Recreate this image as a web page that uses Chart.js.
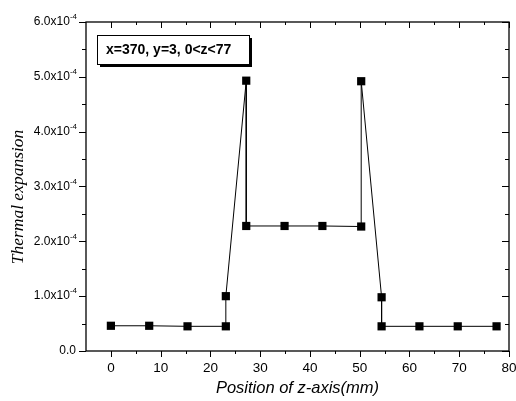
<!DOCTYPE html>
<html>
<head>
<meta charset="utf-8">
<script src="https://cdn.jsdelivr.net/npm/chart.js@4.4.0/dist/chart.umd.min.js"></script>
<style>
  html, body { margin: 0; padding: 0; background: #fff; }
</style>
</head>
<body>
<canvas id="grafico" width="516" height="401"></canvas>
<script>
// z position (mm) and thermal expansion (x1e-4)
const zPos = [0, 7.7, 15.4, 23.1, 23.1, 27.2, 27.2, 34.9, 42.5, 50.3, 50.3, 54.4, 54.4, 62.0, 69.7, 77.5];
const expansion = [0.46, 0.46, 0.45, 0.45, 1.0, 4.93, 2.28, 2.28, 2.28, 2.27, 4.92, 0.98, 0.45, 0.45, 0.45, 0.45];
const xTicks = [0, 10, 20, 30, 40, 50, 60, 70, 80];
const yTicks = [0, 1, 2, 3, 4, 5, 6];
const boxText = 'x=370, y=3, 0<z<77';
const xTitle = 'Position of z-axis(mm)';
const yTitle = 'Thermal expansion';

const ctx = document.getElementById('grafico');

let points = [];
for (var i = 0; i < zPos.length; i++) {
    points.push({ x: zPos[i], y: expansion[i] * 1e-4 });
}

const frame = {
    id: 'frame',
    afterDraw(chart) {
        const c = chart.ctx;
        const a = chart.chartArea;
        const sx = chart.scales.x;
        const sy = chart.scales.y;
        c.save();
        c.strokeStyle = '#000';
        c.fillStyle = '#000';
        c.lineWidth = 1.3;
        c.strokeRect(a.left, a.top, a.right - a.left, a.bottom - a.top);

        c.lineWidth = 1;
        c.beginPath();
        // x ticks: out at bottom, in at top
        for (var v = 0; v <= 80; v += 5) {
            const px = Math.round(sx.getPixelForValue(v)) + 0.5;
            const len = v % 10 === 0 ? 6 : 3;
            c.moveTo(px, a.bottom); c.lineTo(px, a.bottom + len);
            c.moveTo(px, a.top); c.lineTo(px, a.top + len);
        }
        // y ticks: out at left, in at right
        for (var k = 0; k <= 12; k++) {
            const py = Math.round(sy.getPixelForValue(k * 0.5e-4)) + 0.5;
            const len = k % 2 === 0 ? 7 : 4;
            c.moveTo(a.left, py); c.lineTo(a.left - len, py);
            c.moveTo(a.right, py); c.lineTo(a.right - len, py);
        }
        c.stroke();

        // x labels
        c.font = '13.5px "Liberation Sans", Arial, sans-serif';
        c.textAlign = 'center';
        c.textBaseline = 'middle';
        xTicks.forEach(t => {
            c.fillText(String(t), sx.getPixelForValue(t), a.bottom + 17);
        });

        // y labels with superscript exponent
        const rightEdge = 77;
        yTicks.forEach(t => {
            const py = sy.getPixelForValue(t * 1e-4);
            c.textBaseline = 'middle';
            if (t === 0) {
                c.font = '12px "Liberation Sans", Arial, sans-serif';
                c.textAlign = 'right';
                c.fillText('0.0', rightEdge - 1, py);
                return;
            }
            c.font = '8px "Liberation Sans", Arial, sans-serif';
            const sup = '-4';
            const sw = c.measureText(sup).width;
            c.textAlign = 'left';
            c.fillText(sup, rightEdge - sw, py - 5);
            c.font = '12px "Liberation Sans", Arial, sans-serif';
            c.textAlign = 'right';
            c.fillText(t + '.0x10', rightEdge - sw, py);
        });

        // axis titles
        c.font = 'italic 16.5px "Liberation Sans", Arial, sans-serif';
        c.textAlign = 'center';
        c.textBaseline = 'middle';
        c.fillText(xTitle, (a.left + a.right) / 2, 388);

        c.save();
        c.translate(18, 197);
        c.rotate(-Math.PI / 2);
        c.font = 'italic 17.5px "Liberation Serif", "Times New Roman", serif';
        c.fillText(yTitle, 0, 0);
        c.restore();

        // label box with shadow
        const bx = 97, by = 35, bw = 152, bh = 29;
        c.fillRect(bx + 3, by + 3, bw, bh);
        c.fillStyle = '#fff';
        c.fillRect(bx, by, bw, bh);
        c.lineWidth = 1;
        c.strokeRect(bx + 0.5, by + 0.5, bw, bh);
        c.fillStyle = '#000';
        c.font = 'bold 14px "Liberation Sans", Arial, sans-serif';
        c.textAlign = 'left';
        c.fillText(boxText, bx + 9, by + bh / 2 + 1);
        c.restore();
    }
};

new Chart(ctx, {
    type: 'line',
    data: {
        datasets: [{
            label: 'Thermal expansion',
            data: points,
            borderColor: '#000',
            borderWidth: 1,
            backgroundColor: '#000',
            pointStyle: 'rect',
            pointRadius: 5.8,
            pointBackgroundColor: '#000',
            pointBorderColor: '#000',
            pointBorderWidth: 0,
            tension: 0
        }]
    },
    options: {
        responsive: false,
        animation: false,
        devicePixelRatio: 1,
        layout: { padding: { left: 0, top: 22, right: 7, bottom: 0 } },
        plugins: { legend: { display: false }, tooltip: { enabled: false } },
        scales: {
            x: {
                type: 'linear',
                min: -5,
                max: 80,
                ticks: { display: false },
                grid: { display: false },
                border: { display: false },
                afterFit: s => { s.height = 50; }
            },
            y: {
                type: 'linear',
                min: 0,
                max: 6e-4,
                ticks: { display: false },
                grid: { display: false },
                border: { display: false },
                afterFit: s => { s.width = 86; }
            }
        }
    },
    plugins: [frame]
});
</script>
</body>
</html>
